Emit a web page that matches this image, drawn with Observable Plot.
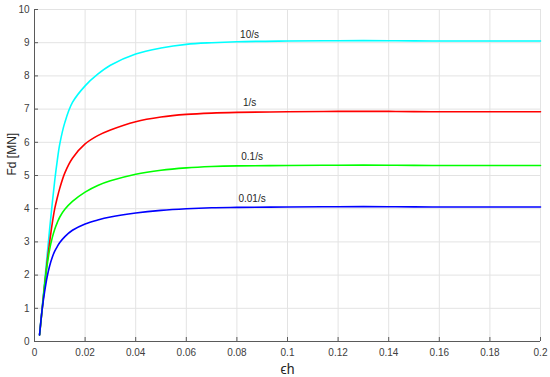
<!DOCTYPE html>
<html>
<head>
<meta charset="utf-8">
<script src="https://cdn.jsdelivr.net/npm/d3@7"></script>
<script src="https://cdn.jsdelivr.net/npm/@observablehq/plot@0.6"></script>
<style>
  html, body { margin: 0; padding: 0; background: #fff; }
  svg { display: block; }
</style>
</head>
<body>
<div id="chart"></div>
<script>
// strain values (x) shared by all series
const strain = [0.002, 0.003, 0.004, 0.005, 0.006, 0.007, 0.008, 0.009, 0.01, 0.012, 0.015, 0.02, 0.025, 0.03, 0.04, 0.05, 0.06, 0.07, 0.08, 0.1, 0.12, 0.14, 0.16, 0.18, 0.2];

const rate10  = [0.2, 1.0, 1.8, 2.6, 3.4, 4.15, 4.85, 5.45, 5.95, 6.6, 7.2, 7.7, 8.05, 8.32, 8.66, 8.84, 8.95, 9.0, 9.03, 9.05, 9.06, 9.06, 9.05, 9.05, 9.05];
const rate1   = [0.2, 0.95, 1.7, 2.4, 3.0, 3.55, 4.0, 4.33, 4.62, 5.08, 5.52, 5.95, 6.2, 6.37, 6.62, 6.76, 6.84, 6.88, 6.9, 6.92, 6.93, 6.93, 6.92, 6.92, 6.92];
const rate01  = [0.2, 0.95, 1.7, 2.3, 2.78, 3.12, 3.38, 3.58, 3.75, 3.98, 4.22, 4.5, 4.7, 4.84, 5.04, 5.16, 5.23, 5.27, 5.29, 5.3, 5.31, 5.31, 5.3, 5.3, 5.3];
const rate001 = [0.2, 0.95, 1.5, 1.95, 2.28, 2.53, 2.72, 2.86, 2.98, 3.16, 3.35, 3.54, 3.66, 3.75, 3.87, 3.95, 4.0, 4.03, 4.04, 4.05, 4.06, 4.06, 4.05, 4.05, 4.05];

const seriesNames  = ["10/s", "1/s", "0.1/s", "0.01/s"];
const seriesValues = [rate10, rate1, rate01, rate001];
const seriesColors = ["#00ffff", "#ff0000", "#00ff00", "#0000ff"];

// label anchor positions (data units)
const labelX = [0.085, 0.085, 0.086, 0.086];
const labelY = [9.25, 7.2, 5.55, 4.3];

const xTicks = [0, 0.02, 0.04, 0.06, 0.08, 0.1, 0.12, 0.14, 0.16, 0.18, 0.2];
const yTicks = [0, 1, 2, 3, 4, 5, 6, 7, 8, 9, 10];

const rows = [];
seriesNames.forEach((name, i) => {
  strain.forEach((x, j) => rows.push({series: name, x, y: seriesValues[i][j]}));
});
const labels = seriesNames.map((name, i) => ({series: name, x: labelX[i], y: labelY[i]}));

const chart = Plot.plot({
  width: 550,
  height: 377,
  marginLeft: 34,
  marginRight: 10,
  marginTop: 9,
  marginBottom: 36,
  style: {fontFamily: "'Liberation Sans', Arial, sans-serif", fontSize: "10px", background: "#fff"},
  x: {domain: [0, 0.2], ticks: xTicks},
  y: {domain: [0, 10], ticks: yTicks},
  color: {domain: seriesNames, range: seriesColors},
  marks: [
    Plot.gridX(xTicks, {stroke: "#e3e3e3", strokeOpacity: 1, strokeWidth: 1}),
    Plot.gridY(yTicks, {stroke: "#e3e3e3", strokeOpacity: 1, strokeWidth: 1}),
    Plot.ruleX([0], {stroke: "#5a5a5a", strokeWidth: 1}),
    Plot.ruleY([0], {stroke: "#5a5a5a", strokeWidth: 1}),
    Plot.axisX(xTicks, {tickSize: -4, tickPadding: 11, tickFormat: d => String(d), stroke: "#5a5a5a", fill: "#404040", fontSize: 10, label: null}),
    Plot.axisY(yTicks, {tickSize: -4, tickPadding: 9, tickFormat: d => String(d), stroke: "#5a5a5a", fill: "#404040", fontSize: 10, label: null}),
    Plot.line(rows, {x: "x", y: "y", z: "series", stroke: "series", strokeWidth: 1.6, curve: "catmull-rom"}),
    Plot.text(labels, {x: "x", y: "y", text: "series", fill: "#262626", fontSize: 10}),
    Plot.text(["ϵh"], {frameAnchor: "bottom", lineAnchor: "middle", dy: 28, fontSize: 14, fill: "#262626"}),
    Plot.text(["Fd [MN]"], {frameAnchor: "left", dx: -22, rotate: -90, fontSize: 12, fill: "#262626"})
  ]
});
document.getElementById("chart").appendChild(chart);
</script>
</body>
</html>
